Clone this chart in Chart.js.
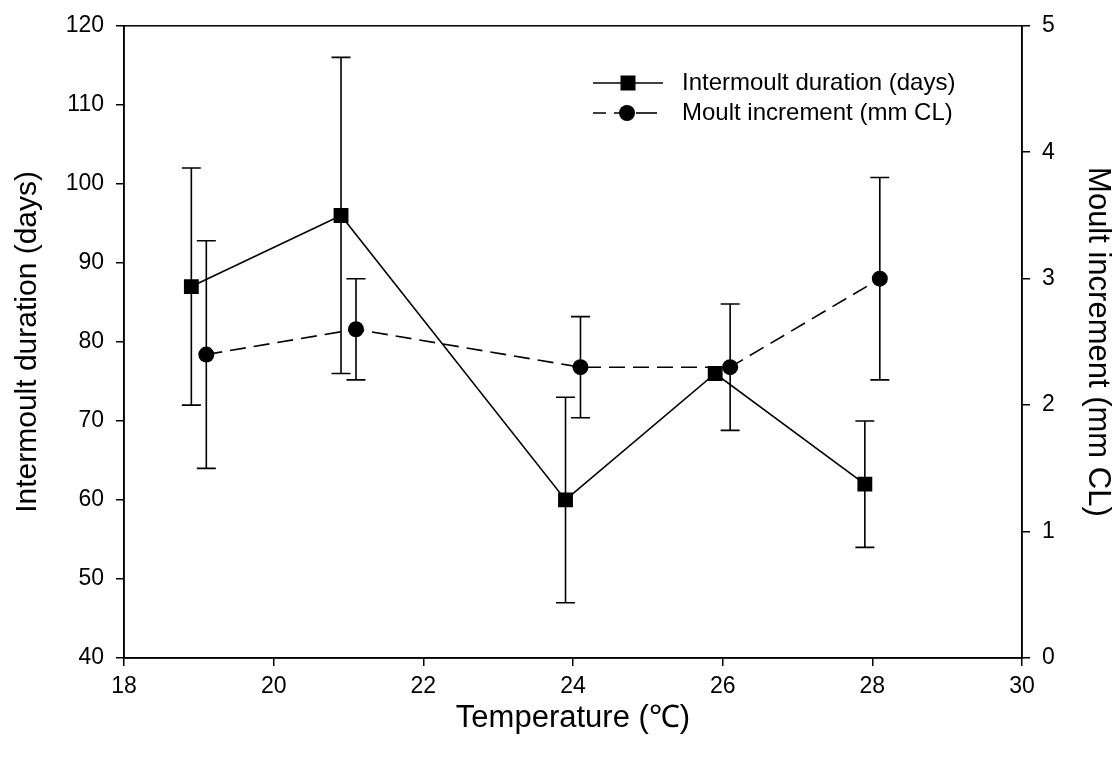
<!DOCTYPE html>
<html>
<head>
<meta charset="utf-8">
<script src="https://cdn.jsdelivr.net/npm/chart.js@4.4.1/dist/chart.umd.min.js"></script>
<style>
  html, body { margin: 0; padding: 0; background: #fff; }
  #wrap { width: 1117px; height: 758px; }
</style>
</head>
<body>
<div id="wrap"><canvas id="c" width="1117" height="758"></canvas></div>
<script>
// Intermoult duration (left axis), measured at each temperature
const tempIntermoult = [18.9, 20.9, 23.9, 25.9, 27.9];
const intermoult = [87, 96, 60, 76, 62];
const intermoultLow = [72, 76, 47, 76, 54];
const intermoultHigh = [102, 116, 73, 76, 70];

// Moult increment (right axis)
const tempMoult = [19.1, 21.1, 24.1, 26.1, 28.1];
const moult = [2.4, 2.6, 2.3, 2.3, 3.0];
const moultLow = [1.5, 2.2, 1.9, 1.8, 2.2];
const moultHigh = [3.3, 3.0, 2.7, 2.8, 3.8];

const seriesNames = ['Intermoult duration (days)', 'Moult increment (mm CL)'];
const xTitle = 'Temperature (\u2103)';
const yTitle = 'Intermoult duration (days)';
const y1Title = 'Moult increment (mm CL)';

const FONT = '"Liberation Sans", Arial, Helvetica, sans-serif';

const pts = (xs, ys) => xs.map((x, i) => ({ x, y: ys[i] }));

// vertical error bars with caps, drawn through the dataset's own scales
const errorBars = {
  id: 'errorBars',
  beforeDatasetsDraw(chart) {
    const ctx = chart.ctx;
    const xs = chart.scales.x;
    const sets = [
      { xv: tempIntermoult, lo: intermoultLow, hi: intermoultHigh, s: chart.scales.y },
      { xv: tempMoult, lo: moultLow, hi: moultHigh, s: chart.scales.y1 }
    ];
    ctx.save();
    ctx.strokeStyle = '#000';
    ctx.lineWidth = 1.6;
    const cap = 9.5;
    sets.forEach(d => {
      d.xv.forEach((xv, i) => {
        if (d.lo[i] === d.hi[i]) return;
        const px = xs.getPixelForValue(xv);
        const yl = d.s.getPixelForValue(d.lo[i]);
        const yh = d.s.getPixelForValue(d.hi[i]);
        ctx.beginPath();
        ctx.moveTo(px, yl); ctx.lineTo(px, yh);
        ctx.moveTo(px - cap, yl); ctx.lineTo(px + cap, yl);
        ctx.moveTo(px - cap, yh); ctx.lineTo(px + cap, yh);
        ctx.stroke();
      });
    });
    ctx.restore();
  }
};

// closed frame around the plot area plus the line-and-marker legend
const frameAndLegend = {
  id: 'frameAndLegend',
  afterDraw(chart) {
    const ctx = chart.ctx;
    const a = chart.chartArea;
    ctx.save();
    ctx.strokeStyle = '#000';
    ctx.lineWidth = 1.5;
    ctx.strokeRect(a.left, a.top, a.right - a.left, a.bottom - a.top);

    const x0 = 593, x1 = 663, xm = 628;
    const rows = [83, 113];
    ctx.lineWidth = 1.6;
    // solid line with square
    ctx.beginPath(); ctx.moveTo(x0, rows[0]); ctx.lineTo(x1, rows[0]); ctx.stroke();
    ctx.fillStyle = '#000';
    ctx.fillRect(xm - 7.5, rows[0] - 7.5, 15, 15);
    // dashed line with circle
    ctx.setLineDash([13, 8]);
    ctx.beginPath(); ctx.moveTo(x0, rows[1]); ctx.lineTo(xm, rows[1]); ctx.stroke();
    ctx.setLineDash([]);
    ctx.beginPath(); ctx.moveTo(xm + 8, rows[1]); ctx.lineTo(x1 - 6, rows[1]); ctx.stroke();
    ctx.beginPath(); ctx.arc(xm - 1, rows[1], 8, 0, Math.PI * 2); ctx.fill();

    ctx.font = '24px ' + FONT;
    ctx.textBaseline = 'middle';
    ctx.textAlign = 'left';
    ctx.fillText(seriesNames[0], 682, rows[0]);
    ctx.fillText(seriesNames[1], 682, rows[1]);
    ctx.restore();
  }
};

const tickGrid = {
  drawOnChartArea: false,
  drawTicks: true,
  tickLength: 8,
  color: '#000',
  lineWidth: 1.5
};

new Chart(document.getElementById('c'), {
  type: 'scatter',
  data: {
    datasets: [
      {
        label: seriesNames[0],
        data: pts(tempIntermoult, intermoult),
        yAxisID: 'y',
        showLine: true,
        borderColor: '#000',
        borderWidth: 1.6,
        backgroundColor: '#000',
        pointStyle: 'rect',
        pointRadius: 10.5,
        pointBorderWidth: 0,
        pointHoverRadius: 10.5
      },
      {
        label: seriesNames[1],
        data: pts(tempMoult, moult),
        yAxisID: 'y1',
        showLine: true,
        borderColor: '#000',
        borderWidth: 1.6,
        borderDash: [16, 8],
        backgroundColor: '#000',
        pointStyle: 'circle',
        pointRadius: 8,
        pointBorderWidth: 0,
        pointHoverRadius: 8
      }
    ]
  },
  options: {
    responsive: false,
    animation: false,
    events: [],
    layout: { padding: { top: 25, left: 0, right: 0, bottom: 0 } },
    plugins: { legend: { display: false }, tooltip: { enabled: false } },
    scales: {
      x: {
        type: 'linear',
        min: 18, max: 30,
        ticks: { stepSize: 2, color: '#000', font: { family: FONT, size: 23 }, padding: 7 },
        grid: tickGrid,
        border: { display: true, color: '#000', width: 1.5 },
        title: { display: true, text: xTitle, color: '#000', font: { family: FONT, size: 31 }, padding: { top: 0, bottom: 21 } },
        afterFit(s) { s.height = 100; }
      },
      y: {
        type: 'linear',
        position: 'left',
        min: 40, max: 120,
        ticks: { stepSize: 10, color: '#000', font: { family: FONT, size: 23 }, padding: 12 },
        grid: tickGrid,
        border: { display: true, color: '#000', width: 1.5 },
        title: { display: true, text: yTitle, color: '#000', font: { family: FONT, size: 30 }, padding: { top: 10, bottom: 0 } },
        afterFit(s) { s.width = 124; }
      },
      y1: {
        type: 'linear',
        position: 'right',
        min: 0, max: 5,
        ticks: { stepSize: 1, color: '#000', font: { family: FONT, size: 23 }, padding: 12 },
        grid: tickGrid,
        border: { display: true, color: '#000', width: 1.5 },
        title: { display: true, text: y1Title, color: '#000', font: { family: FONT, size: 31 }, padding: { top: 1, bottom: 0 } },
        afterFit(s) { s.width = 95; }
      }
    }
  },
  plugins: [errorBars, frameAndLegend]
});
</script>
</body>
</html>
